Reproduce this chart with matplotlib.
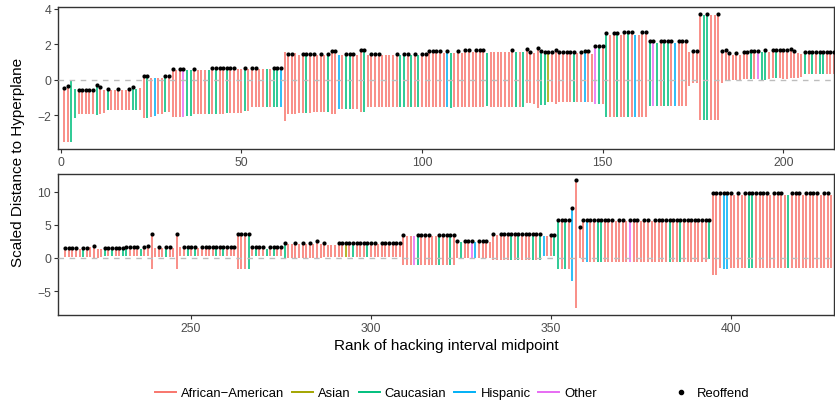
import numpy as np
import matplotlib
matplotlib.use("Agg")
import matplotlib.pyplot as plt
from matplotlib.lines import Line2D

plt.rcParams['font.family'] = ['Liberation Sans', 'DejaVu Sans']

# ---- data: one entry per defendant, ordered by rank of interval midpoint ----
# panel 1: ranks 1-214
hi_1 = [
    -0.47, -0.36, 0.0, -0.5, -0.55, -0.55, -0.55, -0.55, -0.55, -0.28,
    -0.4, -0.55, -0.5, -0.55, -0.55, -0.5, -0.6, -0.6, -0.5, -0.4,
    -0.5, -0.45, 0.2, 0.2, 0.1, 0.1, 0.1, 0.1, 0.2, 0.2,
    0.62, 0.55, 0.62, 0.62, 0.55, 0.55, 0.62, 0.55, 0.55, 0.55,
    0.55, 0.68, 0.68, 0.68, 0.68, 0.68, 0.68, 0.68, 0.6, 0.6,
    0.68, 0.6, 0.68, 0.68, 0.6, 0.6, 0.6, 0.6, 0.68, 0.68,
    0.68, 1.56, 1.46, 1.46, 1.5, 1.4, 1.46, 1.46, 1.46, 1.46,
    1.4, 1.46, 1.4, 1.46, 1.6, 1.6, 1.4, 1.4, 1.46, 1.46,
    1.46, 1.4, 1.65, 1.65, 1.4, 1.46, 1.46, 1.46, 1.4, 1.4,
    1.4, 1.4, 1.46, 1.4, 1.46, 1.46, 1.4, 1.46, 1.4, 1.46,
    1.46, 1.6, 1.6, 1.6, 1.6, 1.5, 1.6, 1.5, 1.5, 1.6,
    1.5, 1.65, 1.65, 1.55, 1.65, 1.65, 1.65, 1.5, 1.56, 1.56,
    1.56, 1.56, 1.56, 1.56, 1.65, 1.56, 1.56, 1.56, 1.75, 1.56,
    1.5, 1.8, 1.6, 1.56, 1.56, 1.56, 1.65, 1.56, 1.56, 1.56,
    1.56, 1.56, 1.5, 1.56, 1.6, 1.6, 1.46, 1.88, 1.88, 1.88,
    2.63, 2.5, 2.63, 2.63, 2.5, 2.68, 2.68, 2.68, 2.5, 2.5,
    2.68, 2.68, 2.18, 2.18, 2.1, 2.18, 2.18, 2.18, 2.18, 2.1,
    2.18, 2.18, 2.18, 1.56, 1.63, 1.63, 3.72, 3.65, 3.72, 3.65,
    3.65, 3.72, 1.6, 1.7, 1.52, 1.4, 1.52, 1.4, 1.56, 1.56,
    1.62, 1.62, 1.62, 1.56, 1.7, 1.56, 1.7, 1.7, 1.7, 1.65,
    1.65, 1.72, 1.62, 1.5, 1.45, 1.56, 1.56, 1.56, 1.56, 1.56,
    1.56, 1.56, 1.56, 1.56,
]
lo_1 = [
    -3.5, -3.5, -3.5, -2.15, -1.9, -1.9, -1.9, -1.9, -1.9, -2.0,
    -1.9, -1.85, -1.7, -1.7, -1.7, -1.7, -1.7, -1.7, -1.7, -1.7,
    -1.7, -1.7, -2.15, -2.15, -2.1, -2.05, -1.95, -1.95, -1.8, -1.8,
    -2.1, -2.1, -2.1, -2.1, -2.05, -2.05, -1.95, -1.95, -1.95, -1.95,
    -1.95, -1.95, -1.95, -1.95, -1.95, -1.85, -1.85, -1.85, -1.85, -1.85,
    -1.75, -1.75, -1.55, -1.55, -1.55, -1.55, -1.55, -1.55, -1.55, -1.55,
    -1.55, -2.3, -1.9, -1.9, -1.9, -1.85, -1.85, -1.85, -1.85, -1.82,
    -1.82, -1.82, -1.82, -1.82, -1.9, -1.9, -1.67, -1.67, -1.67, -1.67,
    -1.67, -1.67, -1.8, -1.8, -1.54, -1.54, -1.54, -1.54, -1.54, -1.54,
    -1.54, -1.54, -1.54, -1.54, -1.54, -1.54, -1.54, -1.54, -1.54, -1.54,
    -1.54, -1.54, -1.54, -1.54, -1.54, -1.54, -1.54, -1.6, -1.54, -1.54,
    -1.54, -1.54, -1.54, -1.54, -1.54, -1.54, -1.54, -1.45, -1.54, -1.54,
    -1.54, -1.54, -1.54, -1.54, -1.54, -1.54, -1.54, -1.54, -1.3, -1.3,
    -1.35, -1.6, -1.4, -1.4, -1.25, -1.25, -1.35, -1.25, -1.25, -1.25,
    -1.25, -1.25, -1.25, -1.25, -1.25, -1.25, -1.25, -1.35, -1.35, -1.35,
    -2.1, -2.1, -2.1, -2.1, -2.1, -2.1, -2.1, -2.1, -2.1, -2.1,
    -2.1, -2.1, -1.48, -1.48, -1.48, -1.48, -1.48, -1.48, -1.48, -1.48,
    -1.48, -1.48, -1.48, -0.36, -0.17, -0.17, -2.24, -2.24, -2.24, -2.24,
    -2.24, -2.24, -0.17, -0.05, 0.0, 0.0, 0.0, 0.0, 0.05, 0.05,
    0.05, 0.05, 0.05, 0.0, 0.0, 0.05, 0.1, 0.1, 0.1, 0.05,
    0.05, 0.1, 0.1, 0.1, 0.15, 0.33, 0.33, 0.33, 0.33, 0.33,
    0.33, 0.33, 0.33, 0.33,
]
race_1 = ("AACCAAAAAC" "AACAAAAAAC" "CAACAHAACA" "AAAOCCAAAA" "CACAACAAAA"
          "CAAAAACACC" "HAAAAAACAA" "AAACAAHACC" "AAACAAAAAA" "AAACCACACA"
          "AAAAAAHCAA" "AAAAAAACAA" "AAAAACACAA" "AACCSAAAAA" "ACAAHAAOCA"
          "CAACAACAHA" "AACOCACCAH" "AAAAAAACCA" "AAAAAAAAAA" "CAOCCAACAA"
          "AAAAACACAC" "CAAA")
reoffend_1 = ("1100111111" "1010010011" "0011000011" "1011001000" "0111111100"
              "1011000011" "1011001111" "0101110011" "1011011100" "0010110101"
              "1111101001" "0110111000" "0000100011" "0111111111" "1101110111"
              "1011011100" "1111011110" "1110111010" "0111101011" "1110101111"
              "1110011111" "1111")

# panel 2: ranks 215-428
hi_2 = [
    1.5, 1.5, 1.5, 1.5, 1.3, 1.5, 1.5, 1.6, 1.86, 1.4,
    1.3, 1.5, 1.5, 1.5, 1.5, 1.5, 1.5, 1.7, 1.7, 1.7,
    1.7, 1.35, 1.6, 1.86, 3.6, 1.5, 1.7, 1.5, 1.7, 1.7,
    1.5, 3.6, 1.6, 1.7, 1.7, 1.7, 1.7, 1.5, 1.7, 1.7,
    1.7, 1.7, 1.7, 1.7, 1.7, 1.7, 1.7, 1.7, 3.6, 3.6,
    3.6, 3.6, 1.7, 1.7, 1.7, 1.7, 1.4, 1.7, 1.7, 1.7,
    1.7, 2.26, 2.1, 2.1, 2.26, 2.1, 2.26, 2.1, 2.26, 2.1,
    2.6, 2.1, 2.26, 2.0, 2.0, 2.0, 2.26, 2.26, 2.26, 2.26,
    2.26, 2.26, 2.26, 2.26, 2.26, 2.26, 2.26, 2.1, 2.26, 2.26,
    2.26, 2.26, 2.26, 2.26, 3.46, 3.3, 3.3, 3.3, 3.46, 3.46,
    3.46, 3.46, 3.3, 3.3, 3.46, 3.46, 3.46, 3.46, 3.46, 2.6,
    2.45, 2.6, 2.6, 2.6, 2.45, 2.6, 2.6, 2.6, 2.45, 3.6,
    3.45, 3.6, 3.6, 3.6, 3.6, 3.6, 3.6, 3.6, 3.6, 3.6,
    3.6, 3.6, 3.6, 3.3, 3.3, 3.46, 3.46, 5.72, 5.72, 5.72,
    5.72, 7.53, 11.75, 4.67, 5.72, 5.72, 5.72, 5.72, 5.72, 5.72,
    5.72, 5.72, 5.72, 5.5, 5.72, 5.72, 5.5, 5.72, 5.72, 5.72,
    5.5, 5.72, 5.72, 5.5, 5.72, 5.72, 5.72, 5.72, 5.72, 5.72,
    5.72, 5.72, 5.72, 5.72, 5.72, 5.72, 5.72, 5.72, 5.72, 5.72,
    9.74, 9.74, 9.74, 9.74, 9.74, 9.74, 9.5, 9.74, 9.5, 9.74,
    9.74, 9.74, 9.74, 9.74, 9.74, 9.74, 9.5, 9.74, 9.74, 9.74,
    9.5, 9.5, 9.74, 9.74, 9.74, 9.5, 9.74, 9.74, 9.74, 9.74,
    9.5, 9.74, 9.74, 9.5,
]
lo_2 = [
    0.2, 0.2, 0.2, 0.2, 0.2, 0.2, 0.2, 0.1, -0.05, -0.05,
    0.1, 0.3, 0.3, 0.3, 0.3, 0.3, 0.3, 0.3, 0.3, 0.3,
    0.3, 0.3, 0.3, 0.3, -1.65, 0.2, 0.2, 0.2, 0.2, 0.2,
    0.2, -1.65, 0.3, 0.3, 0.3, 0.3, 0.3, 0.3, 0.3, 0.3,
    0.3, 0.3, 0.3, 0.3, 0.3, 0.3, 0.3, 0.3, -1.65, -1.65,
    -1.65, -1.65, 0.3, 0.3, 0.3, 0.3, 0.3, 0.3, 0.3, 0.3,
    0.3, -0.05, -0.05, -0.05, -0.05, -0.05, 0.0, 0.0, 0.0, 0.0,
    -0.15, 0.0, 0.1, 0.2, 0.2, 0.2, 0.2, 0.2, 0.2, 0.2,
    0.2, 0.2, 0.2, 0.2, 0.2, 0.2, 0.2, 0.2, 0.2, 0.2,
    0.2, 0.2, 0.2, 0.2, -1.05, -1.05, -1.05, -1.05, -1.05, -1.05,
    -1.05, -1.05, -1.05, -1.05, -1.05, -1.05, -1.05, -1.05, -1.05, -0.05,
    -0.05, -0.05, -0.05, -0.05, -0.05, -0.05, -0.05, -0.05, -0.05, -0.25,
    -0.25, -0.25, -0.25, -0.25, -0.25, -0.25, -0.25, -0.25, -0.25, -0.25,
    -0.25, -0.25, -0.25, 0.25, 0.25, 0.25, 0.25, -1.65, -1.65, -1.65,
    -1.65, -3.5, -7.58, -0.05, -0.65, -0.65, -0.65, -0.65, -0.65, -0.65,
    -0.65, -0.65, -0.65, -0.65, -0.65, -0.65, -0.65, -0.65, -0.65, -0.65,
    -0.65, -0.65, -0.65, -0.65, -0.65, -0.65, -0.65, -0.65, -0.65, -0.65,
    -0.65, -0.65, -0.65, -0.65, -0.65, -0.65, -0.65, -0.65, -0.65, -0.15,
    -2.56, -2.56, -1.55, -1.65, -1.65, -1.55, -1.55, -1.55, -1.55, -1.55,
    -1.55, -1.55, -1.55, -1.55, -1.55, -1.55, -1.55, -1.55, -1.55, -1.55,
    -1.55, -1.55, -1.55, -1.55, -1.55, -1.55, -1.55, -1.55, -1.55, -1.55,
    -1.55, -1.55, -1.55, -1.55,
]
race_2 = ("AAAAACAAAA" "ACACAACCAA" "ACAAAAAACA" "AAAACACAAA" "AACACAAAAA"
          "ACACAACACA" "ACAAAAAAAA" "AAAAAAAASA" "CAAACAAAAA" "AAAAAAAOCA"
          "AAAACAACAA" "CAAOHAAAAA" "AAAACACAAA" "CACHAACCAC" "AHAAAHAACC"
          "AAAAAAAOAA" "AAAAAAAACA" "ACAAAAAAAC" "AAAHHAAAAA" "CCAAAAAAAA"
          "ACAAAAAAAA" "AAAA")
reoffend_2 = ("1111011010" "0111111111" "1011101011" "0101111011" "1111111111"
              "1111110111" "1100101010" "1010001111" "1111111011" "1111100011"
              "1100111111" "0111011101" "0111111111" "1110011111" "1111111111"
              "1110110111" "0110111111" "1111111111" "1111110101" "1111110111"
              "0011101111" "0110")

race_names = {"A": "African\u2212American", "S": "Asian", "C": "Caucasian",
              "H": "Hispanic", "O": "Other"}
race_colors = {"A": "#F8766D", "S": "#A3A500", "C": "#00BF7D",
               "H": "#00B0F6", "O": "#E76BF3"}

panels = [
    (np.arange(1, 215), hi_1, lo_1, race_1, reoffend_1,
     (-0.7, 214.0), (-3.9, 4.1), [0, 50, 100, 150, 200], [-2, 0, 2, 4]),
    (np.arange(215, 429), hi_2, lo_2, race_2, reoffend_2,
     (213.0, 428.7), (-8.6, 12.65), [250, 300, 350, 400], [-5, 0, 5, 10]),
]

fig = plt.figure(figsize=(8.35, 4.02), dpi=100)
boxes = [[58 / 835, 1 - 150 / 402, 776 / 835, 142 / 402],
         [58 / 835, 1 - 316 / 402, 776 / 835, 141 / 402]]

for box, (x, hi, lo, race, reo, xl, yl, xt, yt) in zip(boxes, panels):
    ax = fig.add_axes(box)
    hi = np.array(hi)
    lo = np.array(lo)
    cols = [race_colors[c] for c in race]
    ax.vlines(x, lo, hi, colors=cols, linewidth=1.15, zorder=2)
    ax.axhline(0, color="#BDBDBD", linestyle=(0, (4, 4)), linewidth=1.0, zorder=3)
    mask = np.array([c == "1" for c in reo])
    ax.scatter(x[mask], hi[mask], s=9, color="black", linewidths=0, zorder=4)
    ax.set_xlim(*xl)
    ax.set_ylim(*yl)
    ax.set_xticks(xt)
    ax.set_yticks(yt)
    ax.tick_params(direction="out", length=3, width=0.8, color="#333333",
                   labelsize=8.8, labelcolor="#4D4D4D", pad=2)
    for sp in ax.spines.values():
        sp.set_color("#333333")
        sp.set_linewidth(1.0)

fig.text(18 / 835, 1 - 162 / 402, "Scaled Distance to Hyperplane", rotation=90,
         ha="center", va="center", fontsize=11)
fig.text(446 / 835, 1 - 346 / 402, "Rank of hacking interval midpoint",
         ha="center", va="center", fontsize=11)

race_handles = [Line2D([], [], color=race_colors[k], linewidth=1.4) for k in "ASCHO"]
fig.legend(race_handles, [race_names[k] for k in "ASCHO"], ncol=5,
           loc="center", bbox_to_anchor=(376 / 835, 1 - 394 / 402),
           frameon=False, fontsize=9.4, handlelength=1.6,
           handletextpad=0.4, columnspacing=0.6)
dot_handle = Line2D([], [], marker="o", markersize=3, color="black", linestyle="none")
fig.legend([dot_handle], ["Reoffend"], loc="center",
           bbox_to_anchor=(710 / 835, 1 - 394 / 402), frameon=False,
           fontsize=9.4, handlelength=1.6, handletextpad=0.4)

fig.savefig("out.png", dpi=100)
